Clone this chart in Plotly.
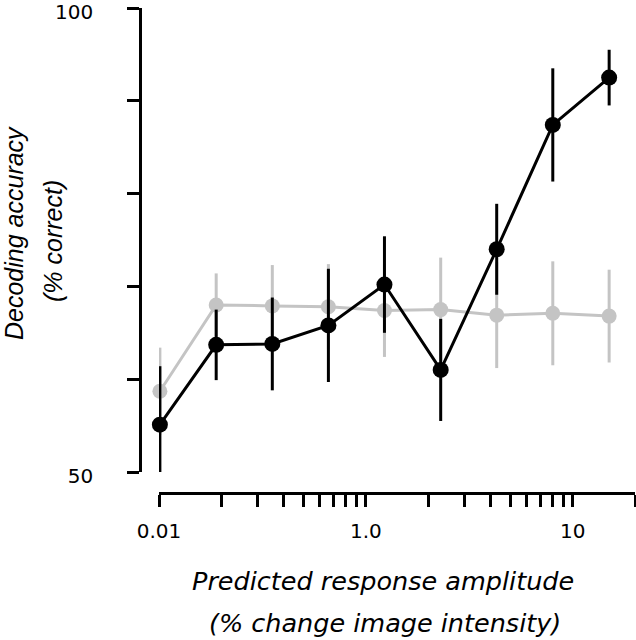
import plotly.graph_objects as go
import math

# Data
amplitude = [0.101, 0.189, 0.353, 0.659, 1.23, 2.30, 4.29, 8.01, 15.0]
acc_black = [55.1, 63.7, 63.8, 65.8, 70.2, 61.0, 74.0, 87.4, 92.5]
err_black = [6.3, 3.8, 5.0, 6.1, 5.2, 5.5, 4.9, 6.1, 3.0]
acc_gray = [58.7, 68.0, 67.9, 67.8, 67.4, 67.5, 66.9, 67.1, 66.8]
err_gray = [4.7, 3.4, 4.4, 4.6, 5.0, 5.6, 5.7, 5.6, 5.0]

x_tickvals = [0.1, 0.2, 0.3, 0.4, 0.5, 0.6, 0.7, 0.8, 0.9,
              1, 2, 3, 4, 5, 6, 7, 8, 9, 10, 20]
x_ticktext = ["0.01", "", "", "", "", "", "", "", "",
              "1.0", "", "", "", "", "", "", "", "", "10", ""]
y_tickvals = [50, 60, 70, 80, 90, 100]
y_ticktext = ["50", "", "", "", "", "100"]

W, H = 636, 640

def px_x(p):
    return p / W

def px_y(p):
    return (H - p) / H

sans = "Liberation Sans, Arial, Helvetica, sans-serif"
wide = "DejaVu Sans, Verdana, sans-serif"
gray = "#c4c4c4"

fig = go.Figure()
fig.add_trace(go.Scatter(
    x=amplitude, y=acc_gray, mode="lines+markers",
    line=dict(color=gray, width=3),
    marker=dict(color=gray, size=15),
    error_y=dict(type="data", array=err_gray, color=gray, thickness=3, width=0),
    cliponaxis=False, showlegend=False, hoverinfo="skip",
))
fig.add_trace(go.Scatter(
    x=amplitude, y=acc_black, mode="lines+markers",
    line=dict(color="black", width=3),
    marker=dict(color="black", size=16),
    error_y=dict(type="data", array=err_black, color="black", thickness=3, width=0),
    cliponaxis=False, showlegend=False, hoverinfo="skip",
))

fig.update_layout(
    width=W, height=H,
    margin=dict(l=0, r=0, t=0, b=0, autoexpand=False),
    paper_bgcolor="white", plot_bgcolor="white",
    font=dict(family=wide, size=20, color="black"),
    xaxis=dict(
        type="log", range=[-1, math.log10(20)],
        domain=[px_x(159), px_x(635)],
        anchor="free", position=px_y(493),
        showline=True, linecolor="black", linewidth=2.5,
        ticks="outside", ticklen=12, tickwidth=2.5, tickcolor="black",
        tickmode="array", tickvals=x_tickvals, ticktext=x_ticktext,
        showgrid=False, zeroline=False, automargin=False,
        ticklabeloverflow="allow", ticklabelstandoff=7,
        tickfont=dict(family=wide, size=20),
    ),
    yaxis=dict(
        range=[50, 100],
        domain=[px_y(472), px_y(8)],
        anchor="free", position=px_x(140),
        showline=True, linecolor="black", linewidth=2.5,
        ticks="outside", ticklen=12, tickwidth=2.5, tickcolor="black",
        tickmode="array", tickvals=y_tickvals, ticktext=y_ticktext,
        showgrid=False, zeroline=False, automargin=False,
        ticklabeloverflow="allow", ticklabelstandoff=30, ticklabelshift=4,
        tickfont=dict(family=wide, size=20),
    ),
)

ann = [
    ("<i>Predicted response amplitude</i>", 383, 581, 0, wide, 25.5, "middle"),
    ("<i>(% change image intensity)</i>", 385, 640, 0, wide, 25.5, "bottom"),
    ("<i>Decoding accuracy</i>", 14, 233, -90, sans, 25, "middle"),
    ("<i>(% correct)</i>", 53, 241, -90, sans, 25, "middle"),
]
for text, xp, yp, ang, fam, fs, ya in ann:
    fig.add_annotation(
        text=text, xref="paper", yref="paper",
        x=px_x(xp), y=px_y(yp), xanchor="center", yanchor=ya,
        showarrow=False, textangle=ang,
        font=dict(family=fam, size=fs, color="black"),
    )

fig.write_html(
    "out.html",
    config={"displayModeBar": False},
    post_script="document.body.style.margin='0';document.body.style.padding='0';",
)
